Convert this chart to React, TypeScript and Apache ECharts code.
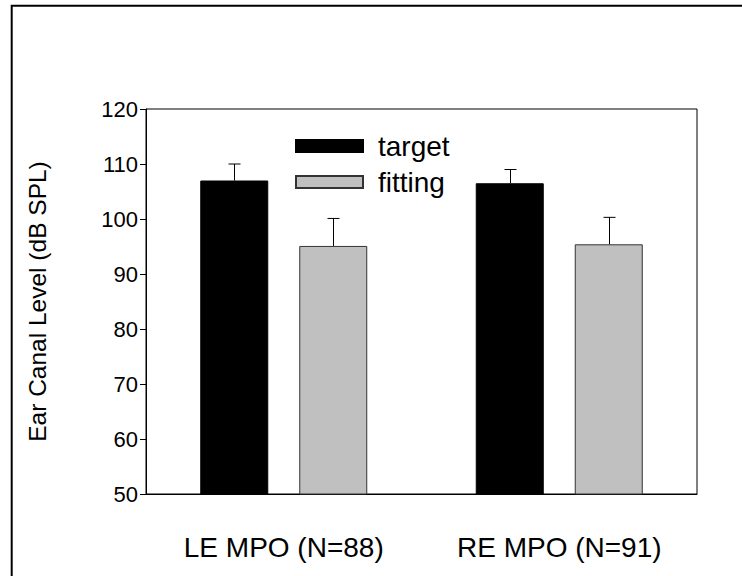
import React, { useEffect, useRef } from "react";
import * as echarts from "echarts";

const categories = ["LE MPO (N=88)", "RE MPO (N=91)"];
const targetValues = [107.0, 106.5];
const targetErrors = [3.0, 2.5];
const fittingValues = [95.1, 95.4];
const fittingErrors = [5.0, 4.9];
const yTicks = { min: 50, max: 120, interval: 10 };

const FONT = "'Liberation Sans', Arial, sans-serif";
const BAR_W = 68;
const BAR_GAP = 31;

function errorSeries(name: string, values: number[], errors: number[], side: number) {
  return {
    type: "custom",
    name: name + "-err",
    silent: true,
    z: 5,
    data: values.map((v, i) => [i, v, v + errors[i]]),
    renderItem: (params: any, api: any) => {
      const idx = api.value(0);
      const base = api.coord([idx, api.value(1)]);
      const top = api.coord([idx, api.value(2)]);
      const off = side * (BAR_W + BAR_GAP) / 2;
      const x = Math.round(base[0] + off) + 0.5;
      const cap = 6;
      return {
        type: "group",
        children: [
          { type: "line", shape: { x1: x, y1: base[1], x2: x, y2: top[1] }, style: { stroke: "#000", lineWidth: 1 } },
          { type: "line", shape: { x1: x - cap, y1: top[1], x2: x + cap, y2: top[1] }, style: { stroke: "#000", lineWidth: 1 } },
        ],
      };
    },
  };
}

export default function App() {
  const ref = useRef<HTMLDivElement>(null);
  useEffect(() => {
    if (!ref.current) return;
    const chart = echarts.init(ref.current, undefined, { renderer: "svg" });
    chart.setOption({
      animation: false,
      backgroundColor: "#fff",
      textStyle: { fontFamily: FONT },
      grid: { left: 146, top: 109, width: 551, height: 385, show: true, borderColor: "#000", borderWidth: 1, backgroundColor: "transparent" },
      legend: {
        orient: "vertical",
        left: 290,
        top: 127,
        itemWidth: 67,
        itemHeight: 12,
        itemGap: 8,
        icon: "rect",
        data: ["target", "fitting"],
        textStyle: { fontFamily: FONT, fontSize: 28, color: "#000", padding: [0, 0, 0, 10] },
      },
      xAxis: {
        type: "category",
        data: categories,
        axisLine: { lineStyle: { color: "#000", width: 1 } },
        axisTick: { alignWithLabel: true, length: 6, lineStyle: { color: "#000" } },
        axisLabel: { fontFamily: FONT, fontSize: 28, color: "#000", margin: 39 },
      },
      yAxis: {
        type: "value",
        min: yTicks.min,
        max: yTicks.max,
        interval: yTicks.interval,
        name: "Ear Canal Level (dB SPL)",
        nameLocation: "middle",
        nameGap: 96,
        nameTextStyle: { fontFamily: FONT, fontSize: 24.5, color: "#000" },
        axisLine: { show: true, lineStyle: { color: "#000", width: 1 } },
        axisTick: { show: true, length: 6, lineStyle: { color: "#000" } },
        axisLabel: { fontFamily: FONT, fontSize: 22, color: "#000", margin: 8 },
        splitLine: { show: false },
      },
      graphic: [
        { type: "rect", shape: { x: 11.7, y: 5.7, width: 900, height: 900 }, style: { fill: "none", stroke: "#000", lineWidth: 2 }, silent: true, z: 100 },
      ],
      series: [
        {
          type: "bar",
          name: "target",
          data: targetValues,
          barWidth: BAR_W,
          barGap: (BAR_GAP / BAR_W) * 100 + "%",
          itemStyle: { color: "#000", borderColor: "#000", borderWidth: 1 },
        },
        {
          type: "bar",
          name: "fitting",
          data: fittingValues,
          barWidth: BAR_W,
          barGap: (BAR_GAP / BAR_W) * 100 + "%",
          itemStyle: { color: "#c0c0c0", borderColor: "#333", borderWidth: 1 },
        },
        errorSeries("target", targetValues, targetErrors, -1),
        errorSeries("fitting", fittingValues, fittingErrors, 1),
      ],
    });
    return () => chart.dispose();
  }, []);
  return <div ref={ref} style={{ position: "fixed", left: 0, top: 0, width: 742, height: 576 }} />;
}
